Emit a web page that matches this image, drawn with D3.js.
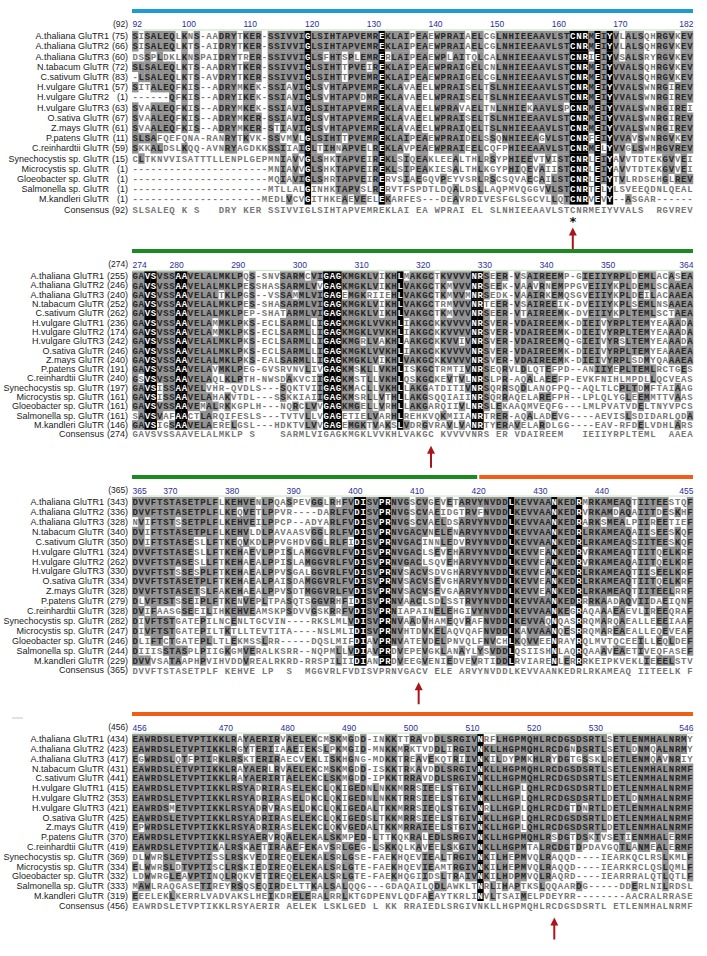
<!DOCTYPE html>
<html>
<head>
<meta charset="utf-8">
<script src="https://cdn.jsdelivr.net/npm/d3@7"></script>
<style>
  body { margin: 0; background: #fff; }
</style>
</head>
<body>
<script>
// ---- data ----
var names = ["A.thaliana GluTR1", "A.thaliana GluTR2", "A.thaliana GluTR3", "N.tabacum GluTR",
  "C.sativum GluTR", "H.vulgare GluTR1", "H.vulgare GluTR2", "H.vulgare GluTR3", "O.sativa GluTR",
  "Z.mays GluTR", "P.patens GluTR", "C.reinhardtii GluTR", "Synechocystis sp. GluTR",
  "Microcystis sp. GluTR", "Gloeobacter sp. GluTR", "Salmonella sp. GluTR", "M.kandleri GluTR"];

var block_starts = [92, 274, 365, 456];

var block1_nums = [75, 66, 60, 72, 83, 57, 1, 63, 67, 61, 11, 59, 15, 1, 1, 1, 1];
var block2_nums = [255, 246, 240, 252, 262, 236, 174, 242, 246, 240, 191, 240, 197, 161, 161, 161, 146];
var block3_nums = [343, 336, 328, 340, 350, 324, 262, 330, 334, 328, 279, 328, 282, 247, 246, 244, 229];
var block4_nums = [434, 423, 417, 431, 441, 415, 353, 421, 425, 419, 370, 419, 369, 334, 332, 333, 319];

var block1_ticks = [92, 100, 110, 120, 130, 140, 150, 160, 170, 182];
var block2_ticks = [274, 280, 290, 300, 310, 320, 330, 340, 350, 364];
var block3_ticks = [365, 370, 380, 390, 400, 410, 420, 430, 440, 455];
var block4_ticks = [456, 470, 480, 490, 500, 510, 520, 530, 546];

var block1_seqs = [
  "SISALEQLKNS-AADRYTKER-SSIVVIGLSIHTAPVEMREKLAIPEAEWPRAIAELCGLNHIEEAAVLSTCNRMEIYVLALSQHRGVKEV",
  "SISALEQLKTS-AIDRYTKER-SSIVVIGLSIHTAPVEMREKLAIPEAEWPRAIAELCGLNHIEEAAVLSTCNRMEIYVLALSQHRGVKEV",
  "DSSPLDKLKNSPAIDRYTRER-SSIVVIGLSFHTSPLEMRERLAIPEAEWPLAITQLCALNHIEEAAVLSTCNRIEIYVSALSRYRGVKEV",
  "SLSALEQLKTS-AADRYTKER-SSIVVIGLSIHTTPVEIREKLAIPEAEWPRAIGELCNLNHIEEAAVLSTCNRMEIYVVALSQHRGVKEV",
  "-LSALEQLKTS-AVDRYTKER-SSIVVIGLSIHTTPVEMREKLAIPEAEWPRAIGELCGLNHIEEAAVLSTCNRMEIYVVALSQHRGVKEV",
  "SITALEQFKIS--ADRYMKEK-SSIAVIGLSVHTAPVEMREKLAVAEELWPRAISELTSLNHIEEAAVLSTCNRMEIYVVALSWNRGIREV",
  "------QFKIS--ADRYIKEK-SSIAVIGLSVHTAPVDMREKLAVAEELWPRAISELTSLNHIEEAAVLSTCNRMEIYVVALSWNRGIREV",
  "SVAALEQFKIS--ADRYMKEK-SSIAVIGLSIHTAPVEMREKLAVAEELWPRAVAELTNLNHIEKAAVLSPCNRMEIYVVALSWNRGIREI",
  "SVAALEQFKIS--ADRYMKER-SSIAVIGLSVHTAPVEMREKLAVAEELWPRAISELTSLNHIEEAAVLSTCNRMEIYVVALSWNRGIREV",
  "SVAALEQFKIS--ADRYMKER-STIAVIGLSVHTAPVEMREKLAVAEELWPRAIQELTSLNHIEEAAVLSTCNRMEIYVVALSWNRGIREV",
  "SLSAFQEFQNA-RANRYTKVK-SSVMVLGLSIHTTPVEMREKLAIPEAEWPRAIDELSSQNHIEEAGVLSTCNRFEIYVVAVSWNRGVKEV",
  "SKKALDSLKQQ-AVNRYAGDKKSSIIAIGLTIHNAPVELREKLAVPEAEWPRAIEELCQFPHIEEAAVLSTCNRMELYVVGLSWHRGVREV",
  "CLTKNVVISATTTLLENPLGEPMNIAVVGLSHKTAPVEIREKLSIQEAKLEEALTHLRSYPHIEEVTVISTCNRLEIYAVVTDTEKGVVEI",
  "----------------------MNIAVVGLSHKTAPVEIREKLSIPEAKIESALTHLKGYPHIQEVAIISTCNRLEIYAVVTDTEKGVVEI",
  "----------------------MQIAVIGLSHRTAPVEIRERVSIAEGQVPEYVSRLRSCSQVAECAILSTCNRLEIYTVLRDSEHGLREV",
  "----------------------MTLLALGINHKTAPVSLRERVTFSPDTLDQALDSLLAQPMVQGGVVLSTCNRTELYLSVEEQDNLQEAL",
  "---------------------MEDLVCVGITHKEAEVEELEKARFES---DEAVRDIVESFGLSGCVLLQTCNRVEVY--ASGAR------"
];
var block1_cons = "SLSALEQ K S   DRY KER SSIVVIGLSIHTAPVEMREKLAI EA WPRAI EL SLNHIEEAAVLSTCNRMEIYVVALS  RGVREV";

var block2_seqs = [
  "GAVSVSSAAVELALMKLPQS-SNVSARMCVIGAGKMGKLVIKHLMAKGCTKVVVVNRSEER-VSAIREEMP-GIEIIYRPLDEMLACASEA",
  "GAVSVSSAAVELALMKLPESSHASSARMLVVGAGKMGKLVIKHLVAKGCTKMVVVNRSEEK-VAAVRNEMPPGVEIIYKPLDEMLSCAAEA",
  "GAVSVSSAAVELALTKLPGS--VSSAMMLVIGAGEMGKRIIEHLVAKGCTKMVVMNRSEDK-VAAIRKEMQSGVEIIYKPLDEILACAAEA",
  "GAVSVSSAAVELALMKLPES-SHASARMLVIGAGKMGKLVIKHLVAKGCTRMVVVNRTEER-VSAIREEIK-DVEIIYKPLSEMLNSAAEA",
  "GAVSVSSAAVELALMKLPEP-SHATARMLVIGAGKMGKLVIKHLVAKGCTKMVVVNRSEER-VTAIREEMK-DVEIIYKPLTEMLSCTAEA",
  "GAVSVSSAAVELAMMKLPKS-ECLSARMLLIGAGKMGKLVVKHLIAKGCKKVVVVNRSVER-VDAIREEMK-DIEIVYRPLTEMYEAAADA",
  "GAVSVSSAAVELAMMKLPKS-ECLSARMLLIGAGKMGKLVVKHLIAKGCKKVVVVNRSVER-VDAIREEMK-DIEIVYRPLTEMYEAAADA",
  "GAVSVSSAAVELALMKLPKS-ECLSARMLLIGAGKMGRLVAKHLAAKGCKKVVIVNRSVER-VDAIREEMQ-GIEIVYRSLTEMYEAAADA",
  "GAVSVSSAAVELALMKLPKS-ECLSARMLLIGAGKMGKLVVKHLIAKGCKKVVVVNRSVER-VDAIREEMK-DIEIVYRPLTEMYEAAAEA",
  "GAVSVSSAAVELALMKLPKS-EALSARMLLIGAGKMGKLVIKHLVAKGCKKVVVVNRSVER-VDAIREEMK-DIEIVYRPLSDMYQAAAEA",
  "GAVSVSSAAVELAVMKLPEG-GVSRVNVLIVGAGKMSKLLVKHLISKGCTRMTIVNRSEQRVLDLQTEFPD--ANIIYEPLTEMLRCTGES",
  "GSVSVSSAAVELAQLKLPTH-NWSDAKVCIIGAGKMSTLLVKHLQSKGCKEVTVLNRSLPR-AQALAEEFP-EVKFNIHLMPDLLQCVEAS",
  "GAVSISSAAVELVHR-QVDLS---SQKTVIIGAGKMACLLVKHLLAKGATDITIVNRSQRRSQDLANQFPQ--AQLTLCPLTDMFTAIAAG",
  "GAVSISSAAVELAHAKVTDL---SSKKIAIIGAGKMSRLLVTHLLAKGSQQIAIINRSQRRAQELAREFPH--LPLQLYGLEEMMTTVAAS",
  "GAVSVSSAAVEMALRKKGPLH---NQRCLVVGAGKMGELLVRHLLAKGARQIIVLNRSLEKAAQMVEQFG---LMLPVATVDELTNYVPCS",
  "SAVSVAFAACTLARQIFESLS---TVTVLLVGAGETIELVARHLREHKVQKMIIANRTRER-AQALADEVG----AEVISLSDIDARLQDA",
  "GAVSIGSAAVELAERELGSL---HDKTVLVVGAGEMGKTVAKSLVDRGVRAVLVANRTYERAVELARDLGG----EAV-RFDELVDHLARS"
];
var block2_cons = "GAVSVSSAAVELALMKLP S    SARMLVIGAGKMGKLVVKHLVAKGC KVVVVNRS ER VDAIREEM   IEIIYRPLTEML  AAEA";

var block3_seqs = [
  "DVVFTSTASETPLFLKEHVENLPQASPEVGGLRHFVDISVPRNVGSCVGEVETARVYNVDDLKEVVAANKEDRMRKAMEAQTIITEESTQF",
  "DVVFTSTASETPLFLKEQVETLPPVR----DARLFVDISVPRNVGSCVAEIDGTRVFNVDDLKEVVAANKEDRVRKAMDAQAIITDESKHF",
  "NVIFTSTSSETPLFLKEHVEILPPCP--ADYARLFVDISVPRNVGSCVAELDSARVYNVDDLKEVVAANKEDRARKSMEALPIIREETIEF",
  "DVIFTSTASETPLFLKEHVLDLPAVAASVGGLRLFVDISVPRNVGACVNELENARVYNVDDLKEVVAANKEDRLRKAMEAQAIISEESKQF",
  "DVIFTSTASESLLFTKEQVKDLPPVGHDVGGLRLFIDISVPRNVGACINNLEDVRVYNVDDLKEVVAANKEDRLRKAMEAQSIITEESKQF",
  "DVVFTSTASESLLFTKEHAEVLPPISLAMGGVRLFVDISVPRNVGACLSEVEHARVYNVDDLKEVVEANKEDRVRKAMEAQTIITQELKRF",
  "DVVFTSTASESLLFTKEHAEALPPISLAMGGVRLFVDISVPRNVGACLSQVEHARVYNVDDLKEVVEANKEDRVRKAMEAQAIITQELKRF",
  "DVVFTSTSSESPLFTKEHAEALPPVSGALGGVRLFVDISVPRNVSACVSDVGHARVYNVDDLKEVVEANKEDRLRKAMEAQTIISEELKRF",
  "DVVFTSTASETPLFTKEHAEALPAISDAMGGVRLFVDISVPRNVSACVSEVGHARVYNVDDLKEVVEANKEDRLRKAMEAQTIITQELKRF",
  "DVVFTSTASETSLFAKEHAEALPPVSDTMGGVRLFVDISVPRNVSACVSEVGAARVYNVDDLKEVVEANKEDRLRKAMEAQTIITEELRRF",
  "DLVFTSTSSEIPLFTKENVEPLTPASQTSGGVRHFIDISVPRNVAACLSDLSSTRVYNVDDLKEVVAANKEDRRRKAADAQVIIDAEIQNF",
  "DVIFAASGSEEILIHKEHVEAMSKPSDVVGSKRRFVDISVPRNIAPAINELEHGIVYNVDDLKEVVAANKEGRAQAAAEAEVLIREEQRAF",
  "DIVFTSTGATEPILNCENLTGCVIN----RKSLMLVDISVPRNVAADVHAMEQVRAFNVDDLKEVVAQNQASRRQMARQAEALLEEEIAAF",
  "DIVFTSTGATEPILTKTLLTEVTITA----NSLMLIDISVPRNVHTDVKELAQVQAFNVDDLKAVVAANQESRRQMAREAEALLEQEVEAF",
  "DLIFTCTGATEPLLTLEKMSSLRR-----DQSLMIFDIAVPRNVATEVDELPNVQLFNVCHLKQVVEENRAYRQLMVTQCEEILLEQLDEF",
  "DIIISSTASPLPIIGKGMVERALKSRR--NQPMLLVDIAVPRDVEPEVGKLANAYLYSVDDLQSIISHNLAQRQAAAVEAETIVEQFASEF",
  "DVVVSATAAPHPVIHVDDVREALRKRD-RRSPILIIDIANPRDVEEGVENIEDVEVRTIDDLRVIARENLERRRKEIPKVEKLIEEELSTV"
];
var block3_cons = "DVVFTSTASETPLF KEHVE LP  S  MGGVRLFVDISVPRNVGACV ELE ARVYNVDDLKEVVAANKEDRLRKAMEAQ IITEELK F";

var block4_seqs = [
  "EAWRDSLETVPTIKKLRAYAERIRVAELEKCMSKMGDD-INKKTTRAVDDLSRGIVNRFLHGPMQHLRCDGSDSRTLSETLENMHALNRMY",
  "EAWRDSLETVPTIKKLRGYTERIIAAEIEKSLPKMGID-MNKKMRKTVDDLIRGIVNKLLHGPMQHLRCDGNDSRTLSETLDNMQALNRMY",
  "EGWRDSLQTFPTIRKLRSKTERIRAECVEKLISKHGNG-MDKKTREAVEKQTRIIVNKILDYPMKHLRYDGTGSSKLRETLENMQAVNRIY",
  "EAWRDSLETVPTIKKLRAYAERLRVAELEKCMSKMGDD-ISKKTRKAVDDLSRGIVNKLLHGPMQHLRCDGSDSRTLSETLENMHALNRMF",
  "EAWRDSLETVPTIKKLRAYAERIRTAELEKCLSKMGDD-IPKKTRRAVDDLSRGIVNKLLHGPMQHLRCDGSDSRTLSETLENMHALNRMF",
  "EAWRDSLETVPTIKKLRSYADRIRASELEKCLQKIGEDNLNKKMRRSIEELSTGIVNKLLHGPLQHLRCDGSDSRTLDETLENMHALNRMF",
  "EAWRDSLETVPTIKKLRSYADRIRASELDKCLQKIGEDNLNKKTRRSIEELSTGIVNKLLHGPLQHLRCDGSDSRTLDETLDNMHALNRMF",
  "EAWRDSMETVPTIKKLRSYADRVRASELDKCLQKIGEDALTKKMRRSIEQLSTGIVNRLLHGPLQHLRCDGTDNRTLDETLENMHALNRMF",
  "EAWRDSLETVPTIKKLRSYADRIRASELEKCLQKIGEDSLTKKMRRSIEELSTGIVNKLLHGPLQHLRCDGSDSRTLDETLENMHALNRMF",
  "EPWRDSLETVPTIKKLRSYADRIRASELEKCLQKVGEDALTKKMRRAIEELSTGIVNKLLHGPLQHLRCDGSDSRTLDETLENMHALNRMF",
  "EAWRDSLETVPTIKKLRSYAERVRQAELEKALSKMPED-LTTKQKRALEDLSRGIVNKLLHGPMQHLRSDGTDSKTVSETIENMHALERMF",
  "EAWRDSLETVPTIKALRSKAETIRAAEFEKAVSRLGEG-LSKKQLKAVEELSKGIVNKLLHGPMTALRCDGTDPDAVGQTLANMEALERMF",
  "DLWWRSLETVPTISSLRSKVEDIREQELEKALSRLGSE-FAEKHQEVIEALTRGIVNKILHEPMVQLRAQQD----IEARKQCLRSLKMLF",
  "ELWWRSLDTVPTISCLRSKIEDIREQELEKALSRLGTE-FAEKHQEVIEAMTRGIVNKILHEPMVQLRAQQD----IEARKRCLQSLQMLF",
  "LDWWRGLEAVPTINQLRQKVETIREQELEKALSRLGTE-FAEKHQGIIDSLTRAIVNKILHDPMVQLRAQRD----IEARRRALQTLQTLF",
  "MAWLRAQGASETIREYRSQSEQIRDELTTKALSALQQG---GDAQAILQDLAWKLTNRLIHAPTKSLQQAARDG-----DDERLNILRDSL",
  "EEELEKLKERRLVADVAKSLHEIKDRELERALRRLKTGDPENVLQDFAEAYTKRLINVLTSAIMELPDEYRR--------AACRALRRASE"
];
var block4_cons = "EAWRDSLETVPTIKKLRSYAERIR AELEK LSKLGED L KK RRAIEDLSRGIVNKLLHGPMQHLRCDGSDSRTL ETLENMHALNRMF";

// domain bars above each block: [first column, last column, colour name]
var block1_bars = [[92, 182, "blue"]];
var block2_bars = [[274, 364, "green"]];
var block3_bars = [[365, 420, "green"], [421, 455, "orange"]];
var block4_bars = [[456, 546, "orange"]];

// alignment column marked with a red arrow in each block
var block_arrows = [163, 322, 411, 524];

// ---- layout ----
var par = {
  w: 707, h: 956,
  x0: 132, x1: 693,
  num_x: 128,
  lab_size: 9,
  tops: [36, 276, 502, 739],       // centre of first row in each block
  row_hs: [10.2, 9.3, 9.9, 9.8],   // the four panels are slightly different in scale
  bar_colors: { blue: "#1d9bd8", green: "#1b8a22", orange: "#f05d16" },
  grey: "#929292",
  seq_font: "'Liberation Mono', 'DejaVu Sans Mono', monospace",
  lab_font: "'Liberation Sans Narrow', 'Liberation Sans', Arial, sans-serif"
};

var blocks = [
  { start: block_starts[0], seqs: block1_seqs, nums: block1_nums, cons: block1_cons, ticks: block1_ticks, bars: block1_bars, star: true },
  { start: block_starts[1], seqs: block2_seqs, nums: block2_nums, cons: block2_cons, ticks: block2_ticks, bars: block2_bars },
  { start: block_starts[2], seqs: block3_seqs, nums: block3_nums, cons: block3_cons, ticks: block3_ticks, bars: block3_bars },
  { start: block_starts[3], seqs: block4_seqs, nums: block4_nums, cons: block4_cons, ticks: block4_ticks, bars: block4_bars }
];

var svg = d3.select("body").append("svg")
  .attr("width", par.w).attr("height", par.h);

svg.append("rect").attr("width", par.w).attr("height", par.h).attr("fill", "#fff");

blocks.forEach(function(b, bi) {
  var ncol = b.cons.length;
  var top = par.tops[bi];
  var rh = par.row_hs[bi];
  var g = svg.append("g").attr("class", "block" + (bi + 1));

  var x = d3.scaleLinear().domain([b.start, b.start + ncol]).range([par.x0, par.x1]);
  var cw = x(b.start + 1) - x(b.start);
  var y = d3.scaleBand().domain(d3.range(names.length + 1))
    .range([top - rh / 2, top - rh / 2 + (names.length + 1) * rh]);

  // coloured domain bars
  g.selectAll("rect.bar").data(b.bars).enter().append("rect")
    .attr("class", "bar")
    .attr("x", function(d) { return x(d[0]) + (d[0] === b.start ? 0 : 2); })
    .attr("width", function(d) { return x(d[1] + 1) - x(d[0]) - (d[0] === b.start ? 0 : 2); })
    .attr("y", top - 27).attr("height", 4)
    .attr("fill", function(d) { return par.bar_colors[d[2]]; });

  // ruler
  var axis = d3.axisTop(x).tickValues(b.ticks).tickSize(0).tickPadding(2)
    .tickFormat(d3.format("d"));
  var ax = g.append("g").attr("transform", "translate(0," + (top - rh / 2 - 1.5) + ")").call(axis);
  ax.select(".domain").attr("stroke", "#c5e5c0").attr("stroke-width", 1);
  ax.selectAll(".tick text")
    .attr("fill", "#2d2d9a").attr("font-size", 8.5).attr("font-family", par.lab_font)
    .attr("text-anchor", function(d, i) { return i === b.ticks.length - 1 ? "end" : "start"; })
    .attr("dx", function(d, i) { return i === b.ticks.length - 1 ? cw : 0; });
  g.append("text").attr("x", par.num_x).attr("y", top - rh / 2 - 4)
    .attr("text-anchor", "end").attr("font-size", 8.5).attr("font-family", par.lab_font)
    .attr("fill", "#222").text("(" + b.start + ")");

  // shading: black = identical in every sequence, grey = matches consensus
  var cells = [];
  b.seqs.forEach(function(s, r) {
    for (var i = 0; i < ncol; i++) {
      var c = s[i];
      var col = b.seqs.map(function(q) { return q[i]; });
      var same = col.every(function(q) { return q === col[0] && q !== "-"; });
      var cls = same ? "id" : (c !== "-" && c === b.cons[i] ? "cons" : "none");
      cells.push({ r: r, i: i, c: c, cls: cls });
    }
  });

  g.selectAll("rect.cell").data(cells.filter(function(d) { return d.cls !== "none"; }))
    .enter().append("rect").attr("class", "cell")
    .attr("x", function(d) { return x(b.start + d.i); })
    .attr("y", function(d) { return y(d.r); })
    .attr("width", cw + 0.3).attr("height", rh + 0.3)
    .attr("fill", function(d) { return d.cls === "id" ? "#000" : par.grey; });

  g.selectAll("text.res").data(cells).enter().append("text").attr("class", "res")
    .attr("x", function(d) { return x(b.start + d.i) + cw / 2; })
    .attr("y", function(d) { return y(d.r) + rh / 2; })
    .attr("dy", "0.36em").attr("text-anchor", "middle")
    .attr("font-family", par.seq_font).attr("font-size", 9).attr("font-weight", "bold")
    .attr("fill", function(d) { return d.cls === "id" ? "#fff" : d.cls === "cons" ? "#262626" : "#777"; })
    .text(function(d) { return d.c; });

  // consensus row
  var ci = names.length;
  g.selectAll("text.cons").data(b.cons.split("")).enter().append("text").attr("class", "cons")
    .attr("x", function(d, i) { return x(b.start + i) + cw / 2; })
    .attr("y", y(ci) + rh / 2).attr("dy", "0.36em").attr("text-anchor", "middle")
    .attr("font-family", par.seq_font).attr("font-size", 9).attr("font-weight", "bold")
    .attr("fill", "#777").text(function(d) { return d; });

  // row labels: numbers right-aligned, names in a column to their left
  var labs = names.concat(["Consensus"]);
  var nums = b.nums.concat([b.start]);
  var numText = g.selectAll("text.num").data(nums).enter().append("text").attr("class", "num")
    .attr("x", par.num_x).attr("y", function(d, i) { return y(i) + rh / 2; })
    .attr("dy", "0.35em").attr("text-anchor", "end")
    .attr("font-family", par.lab_font).attr("font-size", par.lab_size).attr("fill", "#1a1a1a")
    .text(function(d) { return "(" + d + ")"; });
  var maxw = d3.max(numText.nodes(), function(n) { return n.getComputedTextLength(); });
  g.selectAll("text.name").data(labs).enter().append("text").attr("class", "name")
    .attr("x", par.num_x - maxw - 3).attr("y", function(d, i) { return y(i) + rh / 2; })
    .attr("dy", "0.35em").attr("text-anchor", "end")
    .attr("font-family", par.lab_font).attr("font-size", par.lab_size).attr("fill", "#1a1a1a")
    .text(function(d) { return d; });

  // red arrow under the marked column
  var axx = x(block_arrows[bi]) + cw / 2;
  var ybot = y(ci) + rh;
  var a0 = ybot + (b.star ? 13 : 7), a1 = a0 + 22;
  if (b.star) {
    g.append("text").attr("x", axx).attr("y", ybot + 11).attr("text-anchor", "middle")
      .attr("font-size", 13).attr("font-weight", "bold").attr("font-family", "DejaVu Sans, sans-serif")
      .attr("fill", "#111").text("*");
  }
  g.append("line").attr("x1", axx).attr("x2", axx).attr("y1", a0 + 6).attr("y2", a1)
    .attr("stroke", "#a8151b").attr("stroke-width", 2);
  g.append("path")
    .attr("d", "M" + axx + "," + a0 + "L" + (axx - 4) + "," + (a0 + 8) + "L" + (axx + 4) + "," + (a0 + 8) + "Z")
    .attr("fill", "#a8151b");
});

// faint stray mark left of the last block
svg.append("line").attr("x1", 12).attr("x2", 23).attr("y1", 718).attr("y2", 718)
  .attr("stroke", "#d8d8d8").attr("stroke-width", 1.5);
</script>
</body>
</html>
